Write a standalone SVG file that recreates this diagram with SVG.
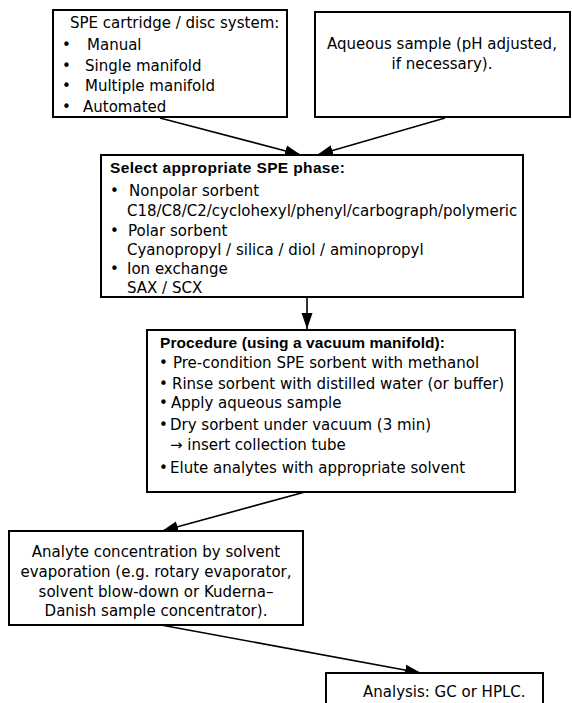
<svg xmlns="http://www.w3.org/2000/svg" width="572" height="703" viewBox="0 0 572 703">
  <style>
    .box { fill: #ffffff; stroke: #000000; stroke-width: 2; }
    .t { font-family: "DejaVu Sans", "Liberation Sans", sans-serif; font-size: 15px; fill: #000000; }
    .b { font-family: "Liberation Sans", "DejaVu Sans", sans-serif; font-size: 15.5px; font-weight: bold; fill: #000000; }
    .c { text-anchor: middle; }
    .edge { fill: none; stroke: #000000; stroke-width: 1.6; }
  </style>
  <defs>
    <marker id="arrow" markerUnits="userSpaceOnUse" markerWidth="18" markerHeight="12" refX="16" refY="6" orient="auto">
      <path d="M0,0.5 L16,6 L0,11.5 Z" fill="#000000"/>
    </marker>
  </defs>
  <rect width="572" height="703" fill="#ffffff"/>

  <!-- connectors -->
  <g id="connectors">
    <line class="edge" x1="160" y1="118" x2="301" y2="155" marker-end="url(#arrow)"/>
    <line class="edge" x1="445" y1="118" x2="317" y2="155" marker-end="url(#arrow)"/>
    <line class="edge" x1="307" y1="298" x2="307" y2="329" marker-end="url(#arrow)"/>
    <line class="edge" x1="305" y1="492" x2="162" y2="531" marker-end="url(#arrow)"/>
    <line class="edge" x1="161" y1="625" x2="421" y2="673" marker-end="url(#arrow)"/>
  </g>

  <!-- cartridge / disc system -->
  <g id="node-system">
    <rect class="box" x="53" y="10" width="234" height="107"/>
    <text class="t" x="70" y="28">SPE cartridge / disc system:</text>
    <text class="t" x="62" y="50">•</text>
    <text class="t" x="87" y="50">Manual</text>
    <text class="t" x="62" y="71">•</text>
    <text class="t" x="85" y="71">Single manifold</text>
    <text class="t" x="62" y="91">•</text>
    <text class="t" x="85" y="91">Multiple manifold</text>
    <text class="t" x="62" y="112">•</text>
    <text class="t" x="83" y="112">Automated</text>
  </g>

  <!-- aqueous sample -->
  <g id="node-sample">
    <rect class="box" x="315" y="12" width="255" height="105"/>
    <text class="t c" x="442" y="49">Aqueous sample (pH adjusted,</text>
    <text class="t c" x="442" y="69">if necessary).</text>
  </g>

  <!-- phase selection -->
  <g id="node-phase">
    <rect class="box" x="101" y="155" width="422" height="142"/>
    <text class="b" x="110" y="173" textLength="235" lengthAdjust="spacing">Select appropriate SPE phase:</text>
    <text class="t" x="110" y="196">•</text>
    <text class="t" x="129" y="196">Nonpolar sorbent</text>
    <text class="t" x="127" y="216">C18/C8/C2/cyclohexyl/phenyl/carbograph/polymeric</text>
    <text class="t" x="110" y="236">•</text>
    <text class="t" x="128" y="236">Polar sorbent</text>
    <text class="t" x="127" y="255">Cyanopropyl / silica / diol / aminopropyl</text>
    <text class="t" x="110" y="274">•</text>
    <text class="t" x="127" y="274">Ion exchange</text>
    <text class="t" x="127" y="293">SAX / SCX</text>
  </g>

  <!-- procedure -->
  <g id="node-procedure">
    <rect class="box" x="147" y="330" width="368" height="162"/>
    <text class="b" x="160" y="348" textLength="285" lengthAdjust="spacing">Procedure (using a vacuum manifold):</text>
    <text class="t" x="159" y="368">•</text>
    <text class="t" x="173" y="368">Pre-condition SPE sorbent with methanol</text>
    <text class="t" x="159" y="389">•</text>
    <text class="t" x="172" y="389">Rinse sorbent with distilled water (or buffer)</text>
    <text class="t" x="159" y="408">•</text>
    <text class="t" x="171" y="408">Apply aqueous sample</text>
    <text class="t" x="159" y="430">•</text>
    <text class="t" x="170" y="430">Dry sorbent under vacuum (3 min)</text>
    <text class="t" x="170" y="450">→ insert collection tube</text>
    <text class="t" x="159" y="473">•</text>
    <text class="t" x="170" y="473">Elute analytes with appropriate solvent</text>
  </g>

  <!-- concentration -->
  <g id="node-concentration">
    <rect class="box" x="9" y="531" width="294" height="94"/>
    <text class="t c" x="156" y="557">Analyte concentration by solvent</text>
    <text class="t c" x="156" y="577">evaporation (e.g. rotary evaporator,</text>
    <text class="t c" x="156" y="597">solvent blow-down or Kuderna–</text>
    <text class="t c" x="156" y="616">Danish sample concentrator).</text>
  </g>

  <!-- analysis -->
  <g id="node-analysis">
    <rect class="box" x="326" y="673" width="217" height="40"/>
    <text class="t" x="363" y="697">Analysis: GC or HPLC.</text>
  </g>
</svg>
